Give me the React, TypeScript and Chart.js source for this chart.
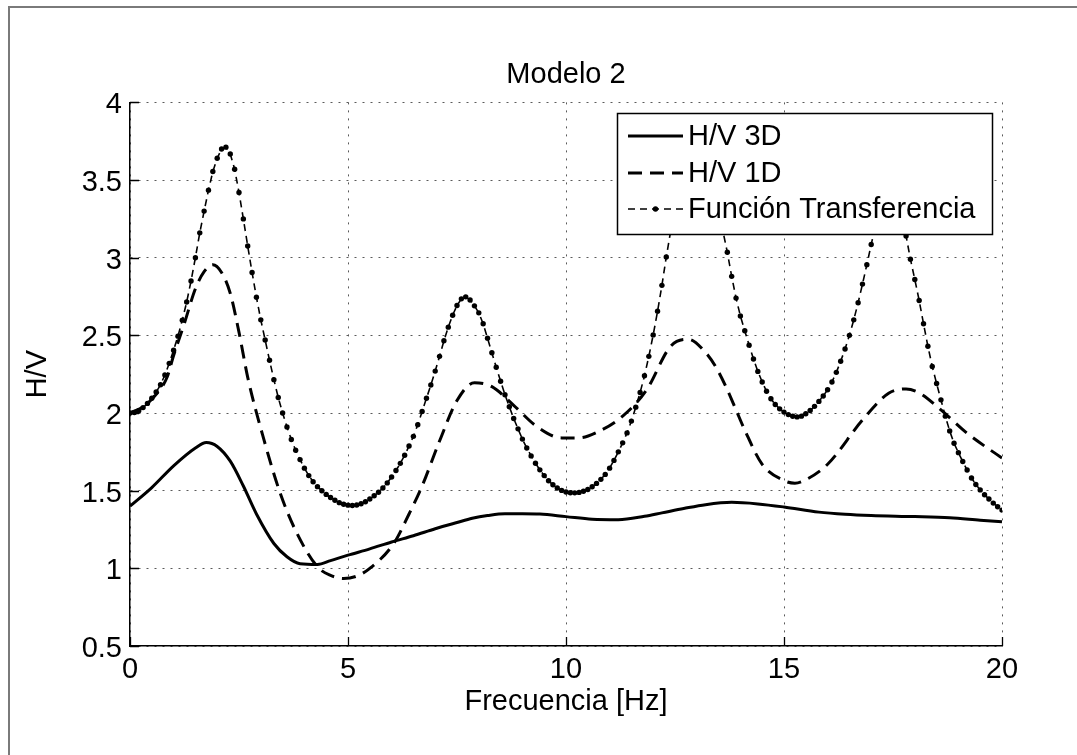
import React, { useEffect, useRef } from 'react';
import { Chart, registerables } from 'chart.js';

Chart.register(...registerables);

const FONT = "'Liberation Sans', Arial, Helvetica, sans-serif";

const titleText = 'Modelo 2';
const xLabel = 'Frecuencia [Hz]';
const yLabel = 'H/V';
const seriesNames = ['H/V 3D', 'H/V 1D', 'Función Transferencia'];
const xTickValues = [0, 5, 10, 15, 20];
const yTickValues = [0.5, 1, 1.5, 2, 2.5, 3, 3.5, 4];

// H/V 3D (solid)
const freq3D = [0, 0.5, 1.0, 1.5, 1.75, 2.0, 2.3, 2.6, 2.9, 3.3, 3.6, 3.9, 4.3, 4.6, 5.0, 5.5, 6.0, 6.5, 7.0, 7.5, 7.85, 8.2, 8.6, 9.0, 9.4, 10.0, 10.6, 11.2, 11.8, 12.2, 12.7, 13.2, 13.8, 14.4, 15.0, 15.8, 16.4, 17.0, 18.0, 18.8, 19.5, 20];
const hv3D = [1.40, 1.52, 1.66, 1.775, 1.81, 1.785, 1.69, 1.53, 1.35, 1.16, 1.075, 1.03, 1.025, 1.05, 1.085, 1.125, 1.17, 1.21, 1.255, 1.295, 1.322, 1.34, 1.352, 1.352, 1.35, 1.333, 1.316, 1.313, 1.335, 1.357, 1.385, 1.41, 1.425, 1.415, 1.395, 1.362, 1.348, 1.34, 1.333, 1.325, 1.31, 1.30];

// H/V 1D (dashed)
const freq1D = [0, 0.3, 0.6, 0.85, 1.0, 1.25, 1.5, 1.7, 1.9, 2.1, 2.3, 2.5, 2.7, 3.07, 3.45, 3.83, 4.3, 4.6, 4.9, 5.2, 5.5, 6.05, 6.4, 6.7, 7.1, 7.5, 7.9, 8.3, 8.8, 9.3, 9.9, 10.3, 10.7, 11.3, 11.85, 12.4, 12.8, 13.2, 13.45, 13.7, 13.9, 14.1, 14.5, 15.0, 15.25, 15.5, 16.0, 16.8, 17.4, 17.8, 18.1, 18.6, 19.2, 20];
const hv1D = [2.0, 2.04, 2.12, 2.23, 2.37, 2.58, 2.80, 2.91, 2.955, 2.905, 2.77, 2.52, 2.23, 1.83, 1.48, 1.225, 1.01, 0.955, 0.935, 0.95, 1.0, 1.16, 1.35, 1.53, 1.82, 2.08, 2.195, 2.17, 2.05, 1.92, 1.84, 1.84, 1.875, 1.98, 2.15, 2.43, 2.475, 2.39, 2.29, 2.15, 2.02, 1.89, 1.67, 1.565, 1.548, 1.57, 1.67, 1.955, 2.127, 2.155, 2.13, 2.02, 1.87, 1.71];

// Función Transferencia (dashed with dot markers)
const freqFT = [
  0.0, 0.1, 0.2, 0.3, 0.4, 0.5, 0.6, 0.7, 0.8, 0.9,
  1.0, 1.1, 1.2, 1.3, 1.4, 1.5, 1.6, 1.7, 1.8, 1.9,
  2.0, 2.1, 2.2, 2.3, 2.4, 2.5, 2.6, 2.7, 2.8, 2.9,
  3.0, 3.1, 3.2, 3.3, 3.4, 3.5, 3.6, 3.7, 3.8, 3.9,
  4.0, 4.1, 4.2, 4.3, 4.4, 4.5, 4.6, 4.7, 4.8, 4.9,
  5.0, 5.1, 5.2, 5.3, 5.4, 5.5, 5.6, 5.7, 5.8, 5.9,
  6.0, 6.1, 6.2, 6.3, 6.4, 6.5, 6.6, 6.7, 6.8, 6.9,
  7.0, 7.1, 7.2, 7.3, 7.4, 7.5, 7.6, 7.7, 7.8, 7.9,
  8.0, 8.1, 8.2, 8.3, 8.4, 8.5, 8.6, 8.7, 8.8, 8.9,
  9.0, 9.1, 9.2, 9.3, 9.4, 9.5, 9.6, 9.7, 9.8, 9.9,
  10.0, 10.1, 10.2, 10.3, 10.4, 10.5, 10.6, 10.7, 10.8, 10.9,
  11.0, 11.1, 11.2, 11.3, 11.4, 11.5, 11.6, 11.7, 11.8, 11.9,
  12.0, 12.1, 12.2, 12.3, 12.4, 12.5, 12.6, 12.7, 12.8, 12.9,
  13.0, 13.1, 13.2, 13.3, 13.4, 13.5, 13.6, 13.7, 13.8, 13.9,
  14.0, 14.1, 14.2, 14.3, 14.4, 14.5, 14.6, 14.7, 14.8, 14.9,
  15.0, 15.1, 15.2, 15.3, 15.4, 15.5, 15.6, 15.7, 15.8, 15.9,
  16.0, 16.1, 16.2, 16.3, 16.4, 16.5, 16.6, 16.7, 16.8, 16.9,
  17.0, 17.1, 17.2, 17.3, 17.4, 17.5, 17.6, 17.7, 17.8, 17.9,
  18.0, 18.1, 18.2, 18.3, 18.4, 18.5, 18.6, 18.7, 18.8, 18.9,
  19.0, 19.1, 19.2, 19.3, 19.4, 19.5, 19.6, 19.7, 19.8, 19.9,
  20.0,
];
const hvFT = [
  2.000, 2.003, 2.015, 2.035, 2.062, 2.095, 2.135, 2.182, 2.245, 2.320,
  2.405, 2.495, 2.598, 2.715, 2.850, 3.000, 3.160, 3.300, 3.435, 3.555,
  3.640, 3.700, 3.712, 3.668, 3.570, 3.420, 3.250, 3.075, 2.905, 2.745,
  2.600, 2.470, 2.340, 2.215, 2.100, 2.000, 1.910, 1.830, 1.760, 1.700,
  1.645, 1.597, 1.558, 1.526, 1.500, 1.476, 1.456, 1.438, 1.423, 1.413,
  1.407, 1.405, 1.408, 1.416, 1.429, 1.446, 1.467, 1.490, 1.517, 1.550,
  1.588, 1.630, 1.676, 1.728, 1.788, 1.850, 1.925, 2.010, 2.095, 2.180,
  2.270, 2.365, 2.465, 2.553, 2.630, 2.692, 2.735, 2.748, 2.728, 2.690,
  2.645, 2.575, 2.482, 2.388, 2.295, 2.205, 2.118, 2.040, 1.965, 1.898,
  1.832, 1.775, 1.724, 1.677, 1.634, 1.597, 1.564, 1.538, 1.517, 1.502,
  1.492, 1.487, 1.486, 1.489, 1.496, 1.508, 1.525, 1.547, 1.573, 1.605,
  1.645, 1.695, 1.750, 1.808, 1.872, 1.948, 2.038, 2.132, 2.240, 2.365,
  2.503, 2.655, 2.822, 3.005, 3.170, 3.360, 3.540, 3.690, 3.790, 3.840,
  3.820, 3.760, 3.660, 3.550, 3.430, 3.300, 3.170, 3.035, 2.880, 2.740,
  2.625, 2.530, 2.437, 2.348, 2.268, 2.200, 2.140, 2.092, 2.055, 2.027,
  2.006, 1.990, 1.979, 1.975, 1.980, 1.995, 2.016, 2.043, 2.075, 2.110,
  2.150, 2.200, 2.262, 2.333, 2.412, 2.500, 2.600, 2.710, 2.830, 2.955,
  3.085, 3.210, 3.330, 3.425, 3.475, 3.470, 3.400, 3.280, 3.140, 2.990,
  2.860, 2.725, 2.575, 2.430, 2.300, 2.190, 2.085, 1.980, 1.885, 1.805,
  1.745, 1.688, 1.633, 1.582, 1.540, 1.505, 1.474, 1.446, 1.420, 1.397,
  1.375,
];

const toXY = (xs: number[], ys: number[]) => xs.map((x, i) => ({ x, y: ys[i] }));

const inwardTicks = {
  id: 'inwardTicks',
  afterDatasetsDraw(chart: any) {
    const { ctx, chartArea } = chart;
    const xs = chart.scales.x;
    const ys = chart.scales.y;
    ctx.save();
    ctx.strokeStyle = '#000';
    ctx.lineWidth = 1.3;
    ctx.setLineDash([]);
    ctx.beginPath();
    xs.ticks.forEach((t: any) => {
      const p = Math.round(xs.getPixelForValue(t.value)) + 0.5;
      ctx.moveTo(p, chartArea.bottom);
      ctx.lineTo(p, chartArea.bottom - 9);
    });
    ys.ticks.forEach((t: any) => {
      const p = Math.round(ys.getPixelForValue(t.value)) + 0.5;
      ctx.moveTo(chartArea.left, p);
      ctx.lineTo(chartArea.left + 9, p);
    });
    ctx.stroke();
    ctx.restore();
  },
};

const boxLegend = {
  id: 'boxLegend',
  afterDraw(chart: any, _args: any, opts: any) {
    const { ctx } = chart;
    const { x, y, w, h, rows, lineX1, lineX2, textX } = opts;
    ctx.save();
    ctx.fillStyle = '#fff';
    ctx.fillRect(x, y, w, h);
    ctx.strokeStyle = '#000';
    ctx.lineWidth = 1.5;
    ctx.setLineDash([]);
    ctx.strokeRect(x, y, w, h);
    chart.data.datasets.forEach((ds: any, i: number) => {
      const ry = rows[i];
      ctx.save();
      ctx.strokeStyle = ds.borderColor;
      ctx.lineWidth = ds.borderWidth;
      ctx.setLineDash(ds.borderDash || []);
      ctx.beginPath();
      ctx.moveTo(lineX1, ry);
      ctx.lineTo(lineX2, ry);
      ctx.stroke();
      if (ds.pointRadius > 0) {
        ctx.fillStyle = ds.pointBackgroundColor;
        ctx.beginPath();
        ctx.arc((lineX1 + lineX2) / 2, ry, ds.pointRadius, 0, Math.PI * 2);
        ctx.fill();
      }
      ctx.restore();
      ctx.fillStyle = '#000';
      ctx.font = `29px ${FONT}`;
      ctx.textAlign = 'left';
      ctx.textBaseline = 'middle';
      ctx.fillText(ds.label, textX, ry + 1.4);
    });
    ctx.restore();
  },
};

export default function App() {
  const ref = useRef<HTMLCanvasElement>(null);

  useEffect(() => {
    if (!ref.current) return;
    const gridCommon = { color: '#5a5a5a', lineWidth: 1, drawTicks: false };
    const borderCommon = { display: true, color: '#000', width: 1.5, dash: [2, 6] };
    const chart = new Chart(ref.current, {
      type: 'line',
      data: {
        datasets: [
          {
            label: seriesNames[0],
            data: toXY(freq3D, hv3D),
            borderColor: '#000',
            backgroundColor: '#000',
            borderWidth: 3,
            pointRadius: 0,
            cubicInterpolationMode: 'monotone',
            fill: false,
          },
          {
            label: seriesNames[1],
            data: toXY(freq1D, hv1D),
            borderColor: '#000',
            backgroundColor: '#000',
            borderWidth: 3,
            borderDash: [14, 8],
            pointRadius: 0,
            cubicInterpolationMode: 'monotone',
            fill: false,
          },
          {
            label: seriesNames[2],
            data: toXY(freqFT, hvFT),
            borderColor: '#000',
            backgroundColor: '#000',
            borderWidth: 1.6,
            borderDash: [7, 5],
            pointRadius: 2.7,
            pointBorderWidth: 0,
            pointBackgroundColor: '#000',
            pointStyle: 'circle',
            tension: 0,
            fill: false,
          },
        ],
      } as any,
      options: {
        responsive: false,
        animation: false,
        events: [],
        layout: { padding: { left: 0, top: 0, right: 75, bottom: 0 } },
        scales: {
          x: {
            type: 'linear',
            min: 0,
            max: 20,
            afterBuildTicks: (s: any) => {
              s.ticks = xTickValues.map((v) => ({ value: v }));
            },
            afterFit: (s: any) => {
              s.height = 109;
            },
            grid: gridCommon,
            border: borderCommon,
            ticks: {
              color: '#000',
              font: { family: FONT, size: 29 },
              padding: 7,
              maxRotation: 0,
              autoSkip: false,
              callback: (v: any) => String(v),
            },
            title: {
              display: true,
              text: xLabel,
              color: '#000',
              font: { family: FONT, size: 29 },
              padding: { top: 0, bottom: 36 },
            },
          },
          y: {
            type: 'linear',
            min: 0.5,
            max: 4,
            afterBuildTicks: (s: any) => {
              s.ticks = yTickValues.map((v) => ({ value: v }));
            },
            afterFit: (s: any) => {
              s.width = 130;
            },
            grid: gridCommon,
            border: borderCommon,
            ticks: {
              color: '#000',
              font: { family: FONT, size: 29 },
              padding: 8,
              labelOffset: 3,
              autoSkip: false,
              callback: (v: any) => String(v),
            },
            title: {
              display: true,
              text: yLabel,
              color: '#000',
              font: { family: FONT, size: 29 },
              padding: { top: 21, bottom: 0 },
            },
          },
        },
        plugins: {
          legend: { display: false },
          tooltip: { enabled: false },
          title: {
            display: true,
            text: titleText,
            color: '#000',
            fullSize: false,
            font: { family: FONT, size: 29, weight: 'normal' },
            padding: { top: 57.6, bottom: 10 },
          },
          boxLegend: {
            x: 617.5,
            y: 113.5,
            w: 375,
            h: 121,
            rows: [136, 173, 209],
            lineX1: 628,
            lineX2: 683,
            textX: 688,
          },
        } as any,
      },
      plugins: [inwardTicks, boxLegend],
    } as any);
    return () => chart.destroy();
  }, []);

  return (
    <div
      style={{
        position: 'absolute',
        left: 0,
        top: 0,
        width: 1077,
        height: 755,
        background: '#fff',
        overflow: 'hidden',
      }}
    >
      <canvas
        ref={ref}
        width={1077}
        height={755}
        style={{ position: 'absolute', left: 0, top: 0, width: 1077, height: 755 }}
      />
      <div
        style={{
          position: 'absolute',
          left: 8,
          top: 6,
          width: 1090,
          height: 770,
          borderTop: '2px solid #7a7a7a',
          borderLeft: '2px solid #7a7a7a',
          pointerEvents: 'none',
        }}
      />
    </div>
  );
}
